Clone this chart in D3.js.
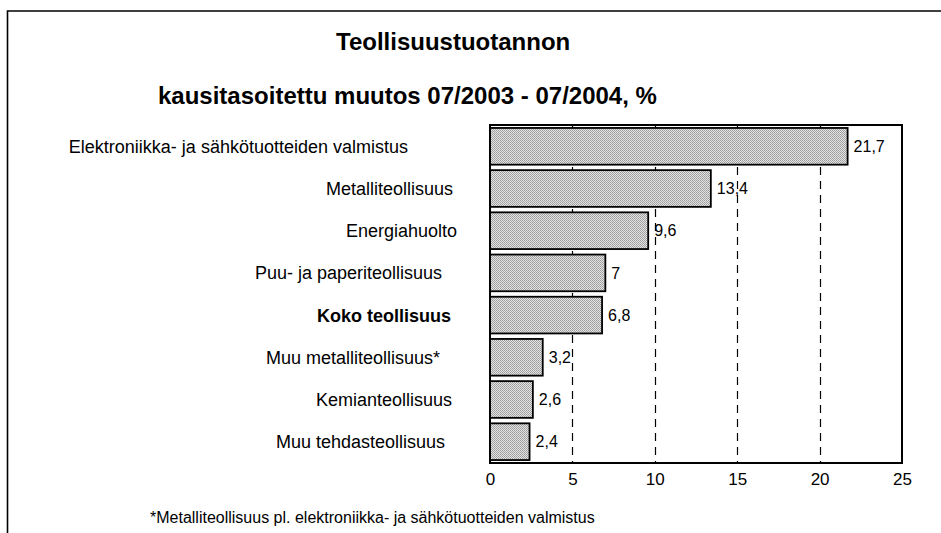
<!DOCTYPE html>
<html>
<head>
<meta charset="utf-8">
<script src="https://cdn.jsdelivr.net/npm/d3@7"></script>
<style>
  html, body { margin: 0; padding: 0; background: #fff; }
  svg { display: block; font-family: "Liberation Sans", Arial, sans-serif; }
</style>
</head>
<body>
<div id="chart"></div>
<script>
(function () {
  'use strict';

  // Data
  const categories = [
    'Elektroniikka- ja sähkötuotteiden valmistus',
    'Metalliteollisuus',
    'Energiahuolto',
    'Puu- ja paperiteollisuus',
    'Koko teollisuus',
    'Muu metalliteollisuus*',
    'Kemianteollisuus',
    'Muu tehdasteollisuus'
  ];
  const values = [21.7, 13.4, 9.6, 7, 6.8, 3.2, 2.6, 2.4];
  const boldCategories = ['Koko teollisuus'];
  const xTicks = [0, 5, 10, 15, 20, 25];
  const gridTicks = [5, 10, 15, 20];

  // layout: the scanned labels are not all flush against the same edge
  const LABEL_RIGHT = [408, 453, 457, 442, 451, 440, 452, 445];

  const width = 941, height = 533;
  const plot = { left: 490, right: 902, top: 125, bottom: 463 };

  const svg = d3.select('#chart').append('svg')
    .attr('width', width)
    .attr('height', height);

  // dotted texture for the bars
  const pat = svg.append('defs').append('pattern')
    .attr('id', 'dots')
    .attr('width', 2).attr('height', 2)
    .attr('patternUnits', 'userSpaceOnUse');
  pat.append('rect').attr('width', 2).attr('height', 2).attr('fill', '#e4e4e4');
  pat.append('rect').attr('width', 1).attr('height', 1).attr('fill', '#9a9a9a');
  pat.append('rect').attr('x', 1).attr('y', 1).attr('width', 1).attr('height', 1).attr('fill', '#a6a6a6');

  // outer frame (top and left edge only)
  svg.append('path')
    .attr('d', 'M7.5,533 V11 H941')
    .attr('fill', 'none')
    .attr('stroke', '#000')
    .attr('stroke-width', 1.6);

  // titles
  svg.append('text')
    .attr('x', 336).attr('y', 50)
    .attr('font-size', 24).attr('font-weight', 'bold')
    .text('Teollisuustuotannon');
  svg.append('text')
    .attr('x', 158).attr('y', 104)
    .attr('font-size', 24).attr('font-weight', 'bold')
    .text('kausitasoitettu muutos 07/2003 - 07/2004, %');

  const x = d3.scaleLinear().domain([0, 25]).range([plot.left, plot.right]);
  const y = d3.scaleBand().domain(categories).range([plot.top, plot.bottom]).paddingInner(0.13).paddingOuter(0.07);

  // dashed gridlines
  svg.append('g')
    .selectAll('line')
    .data(gridTicks)
    .join('line')
    .attr('x1', d => Math.round(x(d)) + 0.5).attr('x2', d => Math.round(x(d)) + 0.5)
    .attr('y1', plot.top).attr('y2', plot.bottom)
    .attr('stroke', '#000')
    .attr('stroke-width', 1.2)
    .attr('stroke-dasharray', '8,6');

  // bars
  svg.append('g')
    .selectAll('rect')
    .data(values)
    .join('rect')
    .attr('x', x(0))
    .attr('y', (d, i) => y(categories[i]))
    .attr('width', d => x(d) - x(0))
    .attr('height', y.bandwidth())
    .attr('fill', 'url(#dots)')
    .attr('stroke', '#000')
    .attr('stroke-width', 1.8);

  // value labels (narrow face as in the original)
  svg.append('g')
    .selectAll('text')
    .data(values)
    .join('text')
    .attr('x', d => x(d) + 6)
    .attr('y', (d, i) => y(categories[i]) + y.bandwidth() / 2)
    .attr('dy', '0.36em')
    .attr('font-size', 16)
    .attr('font-family', '"Liberation Sans Narrow", "Arial Narrow", "Liberation Sans", sans-serif')
    .style('font-stretch', 'condensed')
    .text(d => String(d).replace('.', ','));

  // category labels
  svg.append('g')
    .selectAll('text')
    .data(categories)
    .join('text')
    .attr('x', (d, i) => LABEL_RIGHT[i])
    .attr('y', d => y(d) + y.bandwidth() / 2)
    .attr('dy', '0.36em')
    .attr('text-anchor', 'end')
    .attr('font-size', 18)
    .attr('font-weight', d => boldCategories.includes(d) ? 'bold' : 'normal')
    .text(d => d);

  // plot box
  svg.append('rect')
    .attr('x', plot.left).attr('y', plot.top)
    .attr('width', plot.right - plot.left)
    .attr('height', plot.bottom - plot.top)
    .attr('fill', 'none')
    .attr('stroke', '#000')
    .attr('stroke-width', 2);

  // x axis
  const axis = svg.append('g')
    .attr('transform', `translate(0,${plot.bottom})`)
    .call(d3.axisBottom(x).tickValues(xTicks).tickSize(0).tickPadding(10));
  axis.select('.domain').remove();
  axis.selectAll('text')
    .attr('font-size', 17)
    .attr('font-family', '"Liberation Sans", Arial, sans-serif')
    .attr('fill', '#000');

  // footnote
  svg.append('text')
    .attr('x', 150).attr('y', 523)
    .attr('font-size', 16)
    .text('*Metalliteollisuus pl. elektroniikka- ja sähkötuotteiden valmistus');
})();
</script>
</body>
</html>
